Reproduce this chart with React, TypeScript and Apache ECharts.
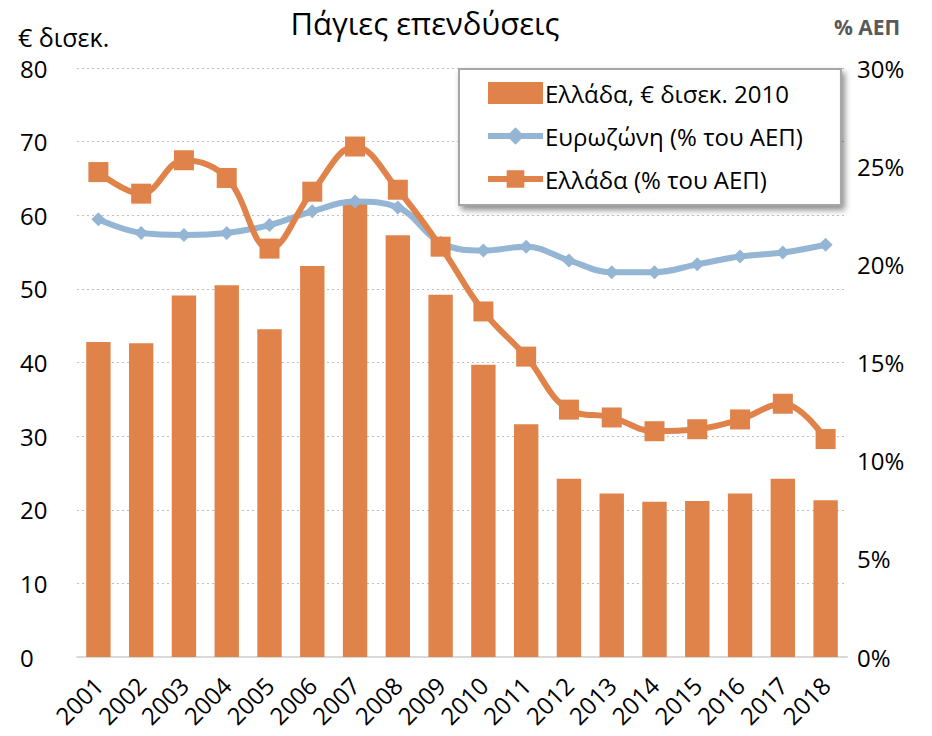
import React, { useEffect, useRef } from "react";
import * as echarts from "echarts";

const years = ["2001","2002","2003","2004","2005","2006","2007","2008","2009","2010","2011","2012","2013","2014","2015","2016","2017","2018"];
const greeceBn = [42.8, 42.6, 49.1, 50.5, 44.5, 53.1, 61.7, 57.3, 49.2, 39.7, 31.6, 24.2, 22.2, 21.1, 21.2, 22.2, 24.2, 21.3];
const euroPct = [22.3, 21.6, 21.5, 21.6, 22.0, 22.7, 23.2, 22.9, 21.1, 20.7, 20.9, 20.2, 19.6, 19.6, 20.0, 20.4, 20.6, 21.0];
const greecePct = [24.7, 23.6, 25.3, 24.4, 20.8, 23.7, 26.0, 23.8, 20.9, 17.6, 15.3, 12.6, 12.2, 11.5, 11.6, 12.1, 12.9, 11.1];

const ORANGE = "#E0834A";
const BLUE = "#94B5D3";
const FONT = "Open Sans";

export default function App() {
  const ref = useRef<HTMLDivElement>(null);
  useEffect(() => {
    const chart = echarts.init(ref.current!, null, { renderer: "svg" });
    chart.setOption({
      animation: false,
      textStyle: { fontFamily: FONT },
      title: {
        text: "Πάγιες επενδύσεις",
        left: 420,
        top: 2,
        textAlign: "center",
        textStyle: { fontSize: 31, fontWeight: "normal", color: "#000", fontFamily: FONT },
      },
      graphic: [
        { type: "text", left: 18, top: 24, style: { text: "€ δισεκ.", fontSize: 25, fill: "#000", fontFamily: FONT } },
        { type: "text", left: 834, top: 16, style: { text: "% ΑΕΠ", fontSize: 21, fontWeight: "bold", fill: "#595959", fontFamily: FONT } },
      ],
      legend: {
        orient: "vertical",
        left: 459,
        top: 69,
        width: 378,
        padding: [12, 38, 14, 26],
        itemGap: 19,
        itemWidth: 55,
        itemHeight: 22,
        backgroundColor: "#fff",
        borderColor: "#A6A6A6",
        borderWidth: 2,
        shadowColor: "rgba(0,0,0,0.45)",
        shadowBlur: 6,
        shadowOffsetX: 3,
        shadowOffsetY: 4,
        lineStyle: { width: 6 },
        textStyle: { fontSize: 24, color: "#000", fontFamily: FONT, padding: [0, 0, 0, -3] },
        data: [
          { name: "Ελλάδα, € δισεκ. 2010", icon: "rect" },
          { name: "Ευρωζώνη (% του ΑΕΠ)" },
          { name: "Ελλάδα (% του ΑΕΠ)" },
        ],
      },
      grid: { left: 77, right: 85, top: 68, bottom: 79, containLabel: false },
      xAxis: {
        type: "category",
        data: years,
        axisLine: { lineStyle: { color: "#D9D9D9", width: 2 } },
        axisTick: { show: false },
        axisLabel: { rotate: 45, interval: 0, fontSize: 24, color: "#000", margin: 24, fontFamily: FONT },
      },
      yAxis: [
        {
          type: "value",
          min: 0,
          max: 80,
          interval: 10,
          axisLine: { show: false },
          axisTick: { show: false },
          splitLine: { lineStyle: { color: "#BFBFBF", type: [2, 3], width: 1 } },
          axisLabel: { fontSize: 24, color: "#000", align: "left", margin: 57, fontFamily: FONT },
        },
        {
          type: "value",
          min: 0,
          max: 30,
          interval: 5,
          axisLine: { show: false },
          axisTick: { show: false },
          splitLine: { show: false },
          axisLabel: { fontSize: 24, color: "#000", formatter: "{value}%", margin: 10, fontFamily: FONT },
        },
      ],
      series: [
        {
          name: "Ελλάδα, € δισεκ. 2010",
          type: "bar",
          data: greeceBn,
          barWidth: "57%",
          itemStyle: { color: ORANGE },
        },
        {
          name: "Ευρωζώνη (% του ΑΕΠ)",
          type: "line",
          yAxisIndex: 1,
          data: euroPct,
          smooth: 0.4,
          symbol: "diamond",
          symbolSize: 14,
          lineStyle: { color: BLUE, width: 6 },
          itemStyle: { color: BLUE },
        },
        {
          name: "Ελλάδα (% του ΑΕΠ)",
          type: "line",
          yAxisIndex: 1,
          data: greecePct,
          smooth: 0.4,
          symbol: "rect",
          symbolSize: 20,
          lineStyle: { color: ORANGE, width: 6 },
          itemStyle: { color: ORANGE },
        },
      ],
    });
    return () => chart.dispose();
  }, []);
  return <div ref={ref} style={{ width: 932, height: 736, margin: -8 }} />;
}
